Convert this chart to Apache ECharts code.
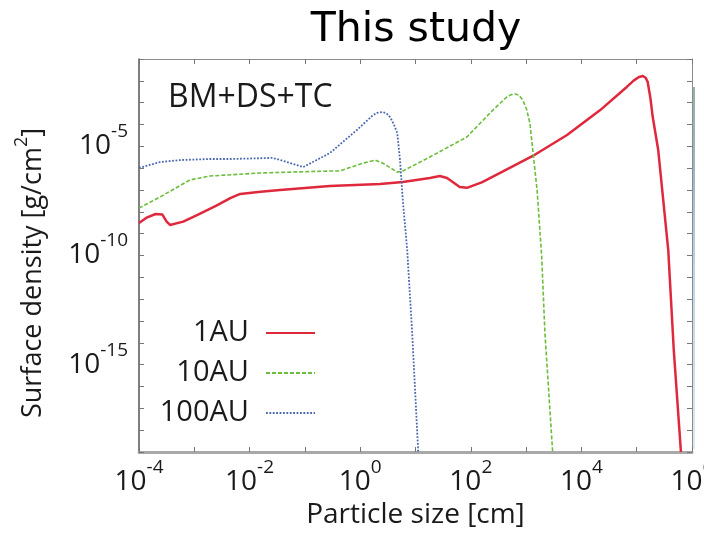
<!DOCTYPE html>
<html>
<head>
<meta charset="utf-8">
<script src="https://cdn.jsdelivr.net/npm/echarts@6/dist/echarts.min.js"></script>
<style>
  html, body { margin: 0; padding: 0; background: #ffffff; }
  #chart { width: 704px; height: 535px; }
</style>
</head>
<body>
<div id="chart"></div>
<script>
// Particle size [cm] and surface density [g/cm^2] for each orbital radius
const size1AU = [1.0e-4, 1.41e-4, 2.0e-4, 2.63e-4, 3.16e-4, 3.63e-4, 6.31e-4, 1.12e-3, 2.51e-3, 4.47e-3,
  6.76e-3, 1.58e-2, 3.55e-2, 0.282, 2.29, 5.89, 18.2, 27.5, 37.2, 63.1,
  85.1, 158, 339, 1.32e3, 5.50e3, 2.19e4, 6.61e4, 8.91e4, 1.10e5, 1.29e5,
  1.45e5, 1.58e5, 1.76e5, 1.95e5, 2.45e5, 3.02e5, 3.72e5, 4.68e5, 6.31e5];
const sigma1AU = [3.09e-9, 5.62e-9, 7.94e-9, 7.59e-9, 3.55e-9, 2.51e-9, 3.55e-9, 7.08e-9, 1.91e-8, 4.27e-8,
  6.61e-8, 8.32e-8, 1.0e-7, 1.51e-7, 1.86e-7, 2.34e-7, 3.55e-7, 4.37e-7, 3.55e-7, 1.38e-7,
  1.26e-7, 2.24e-7, 6.03e-7, 3.63e-6, 3.31e-5, 4.57e-4, 5.25e-3, 1.05e-2, 1.51e-2, 1.66e-2,
  1.38e-2, 8.91e-3, 1.78e-3, 2.19e-4, 6.76e-6, 3.47e-8, 1.78e-10, 4.68e-15, 1.0e-19];

const size10AU = [1.0e-4, 2.40e-4, 8.32e-4, 1.91e-3, 1.55e-2, 0.282, 0.427, 1.12, 1.86, 2.57,
  4.68, 5.89, 18.2, 85.1, 251, 447, 537, 631, 741, 871,
  1.02e3, 1.17e3, 1.32e3, 1.58e3, 1.91e3, 2.19e3, 3.02e3];
const sigma10AU = [1.48e-8, 4.79e-8, 2.88e-7, 4.37e-7, 6.03e-7, 7.41e-7, 7.41e-7, 1.70e-6, 2.34e-6, 1.70e-6,
  6.61e-7, 7.41e-7, 3.24e-6, 2.69e-5, 4.57e-4, 1.82e-3, 2.34e-3, 2.51e-3, 2.19e-3, 1.32e-3,
  5.01e-4, 1.17e-4, 6.76e-6, 1.0e-7, 1.0e-10, 2.82e-14, 1.0e-19];

const size100AU = [1.0e-4, 2.40e-4, 5.50e-4, 1.91e-3, 4.47e-3, 2.63e-2, 7.24e-2, 9.33e-2, 0.282, 0.871,
  1.66, 2.00, 2.57, 3.02, 3.47, 4.07, 4.68, 5.25, 5.89, 7.08,
  8.71, 11.2];
const sigma100AU = [1.02e-6, 1.91e-6, 2.34e-6, 2.63e-6, 2.63e-6, 2.95e-6, 1.38e-6, 1.12e-6, 4.90e-6, 5.62e-5,
  2.51e-4, 3.39e-4, 3.72e-4, 3.16e-4, 2.19e-4, 1.0e-4, 4.07e-5, 2.34e-6, 3.47e-8, 1.78e-10,
  2.82e-14, 1.0e-19];

// Decades that carry a printed tick label
const xLabelExponents = [-4, -2, 0, 2, 4, 6];
const yLabelExponents = [-5, -10, -15];

const seriesNames = ['1AU', '10AU', '100AU'];

const pairs = (xs, ys) => xs.map((x, i) => [x, ys[i]]);

const labelFont = 'Open Sans';
const powerRich = {
  b: { fontFamily: labelFont, fontSize: 28, lineHeight: 48, color: '#1a1a1a', verticalAlign: 'middle' },
  e: { fontFamily: labelFont, fontSize: 19, color: '#1a1a1a', verticalAlign: 'top' }
};
const powerLabel = (shown) => (v) => {
  const e = Math.round(Math.log10(v));
  return shown.includes(e) ? '{b|10}{e|' + e + '}' : '';
};

const chart = echarts.init(document.getElementById('chart'), null, { renderer: 'canvas' });

const frameColor = '#8c8c8c';
const tickStyle = { color: '#777', width: 1 };

chart.setOption({
  backgroundColor: '#ffffff',
  animation: false,
  title: {
    text: 'This study',
    left: 411,
    top: 5,
    textAlign: 'center',
    textStyle: { fontFamily: 'DejaVu Sans', fontSize: 41, fontWeight: 'normal', color: '#000000' }
  },
  grid: { left: 139, right: 12, top: 59, bottom: 83, containLabel: false, outerBoundsMode: 'none' },
  legend: {
    data: seriesNames,
    orient: 'vertical',
    right: 383,
    top: 313,
    align: 'right',
    itemWidth: 49,
    itemHeight: 14,
    itemGap: 10,
    itemStyle: { opacity: 0 },
    textStyle: { fontFamily: labelFont, fontSize: 29, lineHeight: 30, color: '#1a1a1a', padding: [0, 12, 0, 0] }
  },
  xAxis: [
    {
      type: 'log', logBase: 10, min: 1e-4, max: 1e6, interval: 1, position: 'bottom',
      axisLine: { show: true, lineStyle: { color: '#a9a9a9', width: 3 } },
      axisTick: { show: true, inside: true, length: 5, lineStyle: tickStyle },
      axisLabel: { margin: 6, formatter: powerLabel(xLabelExponents), rich: powerRich, showMinLabel: true, showMaxLabel: true },
      splitLine: { show: false },
      name: 'Particle size [cm]', nameLocation: 'middle', nameGap: 45,
      nameTextStyle: { fontFamily: labelFont, fontSize: 28, color: '#1a1a1a' }
    },
    {
      type: 'log', logBase: 10, min: 1e-4, max: 1e6, interval: 1, position: 'top',
      axisLine: { show: true, lineStyle: { color: frameColor, width: 1 } },
      axisTick: { show: true, inside: true, length: 5, lineStyle: tickStyle },
      axisLabel: { show: false }, splitLine: { show: false }
    }
  ],
  yAxis: [
    {
      type: 'log', logBase: 10, min: 1e-19, max: 1e-1, interval: 1, position: 'left',
      axisLine: { show: true, lineStyle: { color: '#555', width: 1.5 } },
      axisTick: { show: true, inside: true, length: 5, lineStyle: tickStyle },
      axisLabel: { margin: 11, formatter: powerLabel(yLabelExponents), rich: powerRich, showMinLabel: true, showMaxLabel: true },
      splitLine: { show: false }
    },
    {
      type: 'log', logBase: 10, min: 1e-19, max: 1e-1, interval: 1, position: 'right',
      axisLine: { show: true, lineStyle: { color: frameColor, width: 1 } },
      axisTick: { show: true, inside: true, length: 5, lineStyle: tickStyle },
      axisLabel: { show: false }, splitLine: { show: false }
    }
  ],
  graphic: [
    {
      type: 'text', x: 168, y: 98,
      style: { text: 'BM+DS+TC', fontFamily: labelFont, fontSize: 32, fill: '#1a1a1a', align: 'left', verticalAlign: 'middle' }
    },
    {
      type: 'text', x: 33, y: 273, rotation: Math.PI / 2,
      style: {
        text: '{n|Surface density [g/cm}{s|2}{n|]}',
        align: 'center', verticalAlign: 'middle',
        rich: {
          n: { fontFamily: labelFont, fontSize: 27, lineHeight: 40, fill: '#1a1a1a', verticalAlign: 'middle' },
          s: { fontFamily: labelFont, fontSize: 18, fill: '#1a1a1a', verticalAlign: 'top' }
        }
      }
    },
    {
      // thin colour strip along the right frame edge
      type: 'rect', shape: { x: 692, y: 87, width: 3, height: 362 },
      style: {
        opacity: 0.5,
        fill: new echarts.graphic.LinearGradient(0, 0, 0, 1, [
          { offset: 0, color: '#2e5f5a' },
          { offset: 0.25, color: '#3b6f8c' },
          { offset: 0.5, color: '#7fa9c9' },
          { offset: 1, color: '#b9d3e6' }
        ])
      }
    }
  ],
  series: [
    {
      name: '1AU', type: 'line', xAxisIndex: 0, yAxisIndex: 0, symbol: 'none', clip: true,
      data: pairs(size1AU, sigma1AU),
      lineStyle: { color: '#e0283d', width: 2.5, type: 'solid', join: 'round' },
      itemStyle: { color: '#e0283d' }
    },
    {
      name: '10AU', type: 'line', xAxisIndex: 0, yAxisIndex: 0, symbol: 'none', clip: true,
      data: pairs(size10AU, sigma10AU),
      lineStyle: { color: '#6cbd3c', width: 1.6, type: [4, 2] },
      itemStyle: { color: '#6cbd3c' }
    },
    {
      name: '100AU', type: 'line', xAxisIndex: 0, yAxisIndex: 0, symbol: 'none', clip: true,
      data: pairs(size100AU, sigma100AU),
      lineStyle: { color: '#4a68b0', width: 1.8, type: [1.8, 1.6] },
      itemStyle: { color: '#4a68b0' }
    }
  ]
});
</script>
</body>
</html>
